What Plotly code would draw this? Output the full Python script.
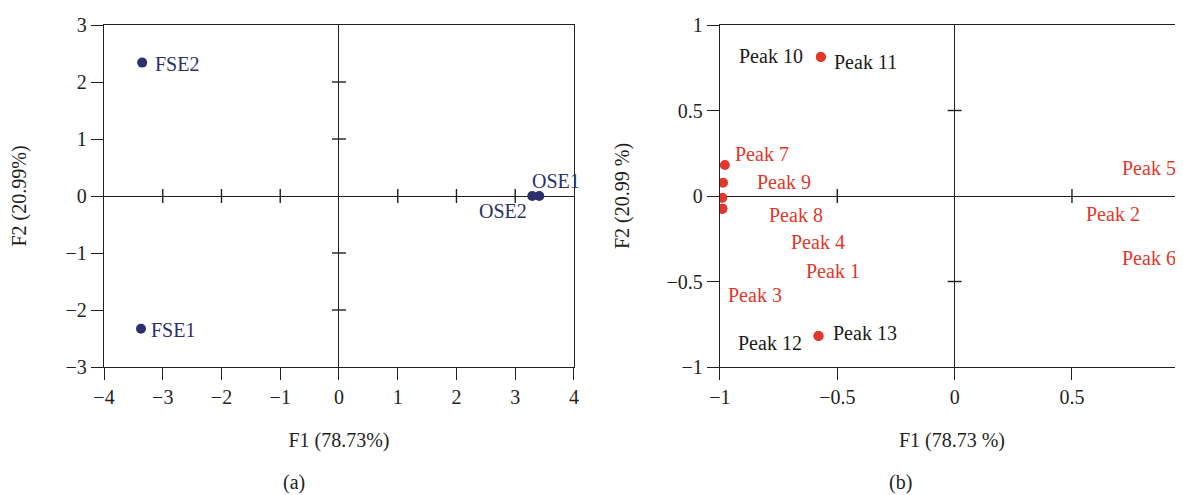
import plotly.graph_objects as go

# ---------------- data ----------------
# Panel (a): observations on F1/F2
obs_names = ["FSE1", "FSE2", "OSE1", "OSE2"]
obs_f1 = [-3.37, -3.35, 3.41, 3.29]
obs_f2 = [-2.33, 2.34, 0.0, 0.0]

# Panel (b): variables (peaks) on F1/F2
peak_names = ["Peak 1", "Peak 2", "Peak 3", "Peak 4", "Peak 5", "Peak 6", "Peak 7",
              "Peak 8", "Peak 9", "Peak 10", "Peak 11", "Peak 12", "Peak 13"]
peak_f1 = [-0.99, 0.974, -0.99, -0.99, 0.98, 0.974, -0.979, -0.99, -0.987, -0.57, -0.57, -0.58, -0.58]
peak_f2 = [-0.074, -0.03, -0.074, -0.074, 0.07, -0.03, 0.181, -0.01, 0.078, 0.813, 0.813, -0.819, -0.819]
peak_active = [True, True, True, True, True, True, True, True, True, False, False, False, False]

# tick values
a_xticks = [-4, -3, -2, -1, 0, 1, 2, 3, 4]
a_yticks = [-3, -2, -1, 0, 1, 2, 3]
b_xticks = [-1, -0.5, 0, 0.5, 1]
b_yticks = [-1, -0.5, 0, 0.5, 1]

# ---------------- styling / layout ----------------
OFF = 8        # page body offset of the plot div
SX = 1.005     # horizontal calibration factor
def fx(r):
    return r * SX - OFF

H = 495 - OFF
ML = fx(103)
MT = 24.5 - OFF
MB = H - (367.5 - OFF)
W = round(fx(1183))
MR = 0
FONT = "Liberation Serif"
NAVY = "#2b2f6c"
RED = "#e2372b"
INK = "#231f20"
LW = 1.4
FS = 20

# label pixel offsets (dx, dy) relative to their marker
obs_off = {"FSE1": (32, -1), "FSE2": (35, -1), "OSE1": (17, 15), "OSE2": (-29, -15)}
peak_off = {"Peak 1": (110, -62), "Peak 2": (-70, -13), "Peak 3": (33, -86),
            "Peak 4": (95, -33), "Peak 5": (-35, 16), "Peak 6": (-34, -57),
            "Peak 7": (37, 11), "Peak 8": (73, -17), "Peak 9": (61, 1),
            "Peak 10": (-50, 1), "Peak 11": (44, -5), "Peak 12": (-48, -7),
            "Peak 13": (46, 3)}

pw = W - ML - MR
ph = H - MT - MB
a_dom = [0, (fx(573) - ML) / pw]
b_dom = [(fx(719) - ML) / pw, 1]

a_xr, a_yr = [-4, 4], [-3, 3]
b_px_per_unit = 234.7 * SX
b_xr = [-1, -1 + (b_dom[1] - b_dom[0]) * pw / b_px_per_unit]
b_yr = [-1, 1]

fig = go.Figure()
fig.add_trace(go.Scatter(x=obs_f1, y=obs_f2, mode="markers", xaxis="x", yaxis="y",
                         marker=dict(size=10, color=NAVY), showlegend=False, hoverinfo="text",
                         text=obs_names))
fig.add_trace(go.Scatter(x=peak_f1, y=peak_f2, mode="markers", xaxis="x2", yaxis="y2",
                         marker=dict(size=10, color=RED), showlegend=False, hoverinfo="text",
                         text=peak_names, cliponaxis=True))

ann = []
for n, x, y in zip(obs_names, obs_f1, obs_f2):
    dx, dy = obs_off[n]
    ann.append(dict(x=x, y=y, xref="x", yref="y", text=n, showarrow=False,
                    xanchor="center", yanchor="middle",
                    xshift=dx * SX, yshift=dy, font=dict(family=FONT, size=FS, color=NAVY)))
for n, x, y, act in zip(peak_names, peak_f1, peak_f2, peak_active):
    dx, dy = peak_off[n]
    # keep the annotation anchor inside the visible range (off-range anchors are hidden)
    ax_x = min(x, b_xr[1])
    dx = dx * SX + (x - ax_x) * b_px_per_unit
    ann.append(dict(x=ax_x, y=y, xref="x2", yref="y2", text=n, showarrow=False,
                    xanchor="center", yanchor="middle", xshift=dx, yshift=dy,
                    font=dict(family=FONT, size=FS, color=RED if act else "#1a1a1a")))

cap_y = ((H - MB) - (483 - OFF)) / ph
ann.append(dict(x=(fx(293) - ML) / pw, y=cap_y, xref="paper", yref="paper",
                xanchor="center", yanchor="middle",
                text="(a)", showarrow=False, font=dict(family=FONT, size=FS, color=INK)))
ann.append(dict(x=(fx(900) - ML) / pw, y=cap_y, xref="paper", yref="paper",
                xanchor="center", yanchor="middle",
                text="(b)", showarrow=False, font=dict(family=FONT, size=FS, color=INK)))

# crossing ticks on the zero lines
shapes = []
def cross_ticks(xref, yref, xt, yt, xr, yr):
    for t in xt:
        if t != 0 and xr[0] < t < xr[1]:
            shapes.append(dict(type="line", xref=xref, yref=yref, x0=t, x1=t,
                               ysizemode="pixel", yanchor=0, y0=-7, y1=7,
                               line=dict(color=INK, width=LW)))
    for t in yt:
        if t != 0 and yr[0] < t < yr[1]:
            shapes.append(dict(type="line", xref=xref, yref=yref, y0=t, y1=t,
                               xsizemode="pixel", xanchor=0, x0=-7, x1=7,
                               line=dict(color=INK, width=LW)))

cross_ticks("x", "y", a_xticks, a_yticks, a_xr, a_yr)
cross_ticks("x2", "y2", b_xticks, b_yticks, b_xr, b_yr)

axis_common = dict(showgrid=False, zeroline=True, zerolinecolor=INK, zerolinewidth=LW,
                   showline=True, linecolor=INK, linewidth=LW, ticks="outside",
                   ticklen=12, tickwidth=LW, tickcolor=INK,
                   tickfont=dict(family=FONT, size=FS, color=INK))
title_font = dict(family=FONT, size=FS, color=INK)

fig.update_layout(
    width=W, height=H, paper_bgcolor="white", plot_bgcolor="white",
    margin=dict(l=ML, r=MR, t=MT, b=MB),
    font=dict(family=FONT, color=INK),
    xaxis=dict(domain=a_dom, range=a_xr, tickvals=a_xticks, mirror=True, anchor="y",
               title=dict(text="F1 (78.73%)", font=title_font, standoff=25), **axis_common),
    yaxis=dict(domain=[0, 1], range=a_yr, tickvals=a_yticks, mirror=True, anchor="x",
               automargin=True,
               title=dict(text="F2 (20.99%)", font=title_font, standoff=36), **axis_common),
    xaxis2=dict(domain=b_dom, range=b_xr, tickvals=b_xticks, mirror=True, anchor="y2",
                title=dict(text="F1 (78.73 %)", font=title_font, standoff=25), **axis_common),
    yaxis2=dict(domain=[0, 1], range=b_yr, tickvals=b_yticks, mirror=False, anchor="x2",
                title=dict(text="F2 (20.99 %)", font=title_font, standoff=31), **axis_common),
    annotations=ann, shapes=shapes,
)

fig.write_html("out.html")
